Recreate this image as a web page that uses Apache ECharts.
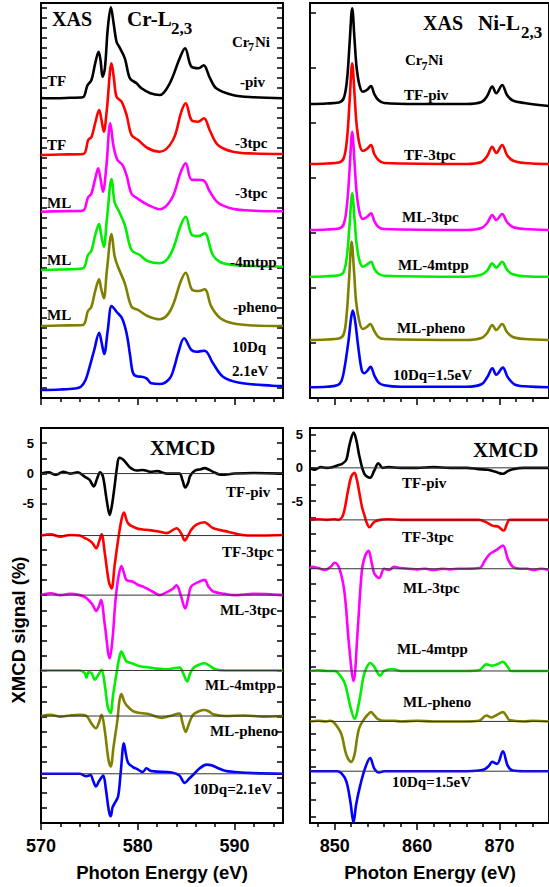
<!DOCTYPE html>
<html><head><meta charset="utf-8">
<script src="https://cdn.jsdelivr.net/npm/echarts@6/dist/echarts.min.js"></script>
<style>html,body{margin:0;padding:0;background:#fff}#c{width:549px;height:887px}</style>
</head><body><div id="c"></div>
<script>
// ---------- tick labels ----------
const crMajorTicks = [570, 580, 590];
const crMinorTicks = [572, 574, 576, 578, 582, 584, 586, 588, 592, 594];
const niMajorTicks = [850, 860, 870];
const niMinorTicks = [848, 852, 854, 856, 858, 862, 864, 866, 868, 872, 874];
const xmcdLabelTicks = [5, 0, -5];

// ---------- series names / colors ----------
const crNames = ['TF-piv', 'TF-3tpc', 'ML-3tpc', 'ML-4mtpp', 'ML-pheno', '10Dq=2.1eV'];
const niNames = ['TF-piv', 'TF-3tpc', 'ML-3tpc', 'ML-4mtpp', 'ML-pheno', '10Dq=1.5eV'];
const colors = ['#000000', '#ff0000', '#ff00ff', '#00ee00', '#808000', '#0000ff'];

// ---------- XAS Cr (arb. units, relative to each curve's baseline) ----------
const crXasOffsets = [299.7, 243, 186.3, 128, 72, 8];
const crXasTFpiv = [[570,0.3],[571.5,0],[573,0.5],[574.3,1],[574.8,13],[575.2,18],[575.6,35],[575.95,46.6],[576.15,38],[576.36,21.6],[576.6,30],[576.9,70],[577.22,91],[577.5,75],[577.8,56.6],[578.07,51.6],[578.66,40],[579.18,20],[579.87,15],[580.38,10],[581.3,5],[582.27,3.3],[583.3,15],[584.33,40],[584.88,50],[585.54,31.6],[586.29,30],[586.8,33],[587.42,21],[588.1,10],[589.8,3.3],[592,1],[595,0]];
const crXasTF3tpc = [[570,0],[572,0.5],[574.36,1],[574.88,15],[575.23,18.3],[575.6,32],[576.01,45],[576.25,35],[576.49,23.3],[576.8,45],[577.29,91.7],[577.55,75],[577.8,58.3],[578.32,53.3],[578.84,40],[579.35,20],[580.03,15],[581,7],[582.27,3.3],[583.64,15],[584.5,43.3],[584.95,51.7],[585.54,35],[586.22,33.3],[586.84,36.7],[587.42,25],[588.28,10],[589.82,3.3],[592,1.5],[595,1]];
const crXasML3tpc = [[570,0],[572,0.5],[574.3,1],[574.85,14],[575.2,18],[575.6,33],[575.91,43.4],[576.15,33],[576.4,20],[576.75,45],[577.16,88.4],[577.5,65],[577.9,51.7],[578.4,47],[578.85,36],[579.35,18],[580,13],[581,7],[582.27,2.5],[583.5,13],[584.45,40],[584.95,48.4],[585.55,32],[586.39,31.7],[586.85,31],[587.45,20],[588.3,9],[589.8,3],[592,1],[595,0.5]];
const crXasML4mtpp = [[570,0],[572,0.5],[574.3,1.5],[574.85,15],[575.2,19],[575.6,35],[576.0,46],[576.2,36],[576.49,23.3],[576.8,50],[577.3,91],[577.6,68],[578.07,58.3],[578.66,45],[579.35,20],[580.2,15],[581,9],[582.27,6.7],[583.4,16],[584.45,45],[584.95,53.3],[585.6,35],[586.3,34],[586.9,36.7],[587.75,15],[588.5,8],[589.8,5],[592,4],[595,3.3]];
const crXasMLpheno = [[570,0],[572,0.5],[574.3,1],[574.85,15],[575.2,19],[575.6,35],[576.0,46.7],[576.2,38],[576.49,27.7],[576.8,55],[577.29,92],[577.6,70],[577.95,59.3],[578.66,42.7],[579.35,19.3],[580.03,16],[581,10],[582.27,6.7],[583.4,16],[584.45,45],[584.95,53.3],[585.64,36],[586.3,35],[586.9,36.7],[587.6,19.3],[588.5,8],[589.8,2.7],[592,0.5],[595,0]];
const crXasCalc = [[570,0],[572,0.5],[573.5,1.5],[574.12,3.3],[574.6,10],[574.98,21.7],[575.5,40],[576.01,57.3],[576.25,48],[576.53,36],[576.9,60],[577.29,84],[577.6,81],[577.8,78.3],[578.37,71.7],[578.84,56.7],[579.2,35],[579.52,16.7],[580.0,13.5],[580.38,13.3],[580.9,11.7],[581.4,6.7],[582.27,6],[583.3,11.7],[583.8,24],[584.16,36.7],[584.78,51.7],[585.54,40],[586.06,38.3],[586.9,39.3],[587.77,26.7],[588.8,13.3],[590.5,7.3],[593.9,4.3],[595,4]];

// ---------- XAS Ni ----------
const niXasOffsets = [294, 234, 168, 121.3, 58, 10.7];
const niXasTFpiv = [[847,0],[849,0.5],[850.5,1.5],[851.1,6],[851.5,25],[851.8,60],[852.12,95.7],[852.4,65],[852.65,37],[853.0,19],[853.4,12.3],[853.9,14],[854.4,18],[854.8,10],[855.3,4],[856,1],[860,0],[866,0],[867.8,2],[868.5,8],[869.12,17.5],[869.6,10.7],[870.32,19],[870.9,9],[871.6,3.5],[873,1],[876,-2]];
const niXasTF3tpc = [[847,0],[849,0.5],[850.5,1.5],[851.1,6],[851.5,26],[851.8,62],[852.12,100.7],[852.4,70],[852.65,40],[853.0,20],[853.4,13],[853.9,15],[854.4,19],[854.8,10],[855.3,4],[856,1],[866,0],[867.8,2],[868.5,8],[869.12,17.3],[869.6,11],[870.32,19],[870.9,9],[871.6,3.5],[873,1],[876,0]];
const niXasML3tpc = [[847,0],[849,0.5],[850.5,1.5],[851.1,6],[851.5,26],[851.8,60],[852.12,98.3],[852.4,68],[852.65,38],[853.0,18],[853.4,11],[853.9,13],[854.4,16.7],[854.8,9],[855.3,3],[856,1],[866,0],[867.8,2],[868.5,7],[869.12,15],[869.6,10],[870.32,16],[870.9,8],[871.6,3],[873,1],[876,0]];
const niXasML4mtpp = [[847,0],[849,0.5],[850.5,1.5],[851.1,5],[851.5,22],[851.8,52],[852.12,83.4],[852.4,58],[852.65,33],[853.0,16],[853.4,10],[853.9,12],[854.4,15],[854.8,8],[855.3,3],[856,1],[866,0],[867.8,2],[868.5,6],[869.12,13.3],[869.6,9],[870.32,15],[870.9,7],[871.6,2.5],[873,0.5],[876,0]];
const niXasMLpheno = [[847,0],[849,0.5],[850.5,1.5],[851.1,6],[851.45,26],[851.75,62],[852.05,98.3],[852.35,68],[852.6,38],[853.0,18],[853.4,11],[853.9,13],[854.3,16],[854.8,9],[855.3,3],[856,1],[866,0],[867.8,2],[868.5,7],[869.12,15],[869.6,10],[870.32,16],[870.9,8],[871.6,3],[873,1],[876,0]];
const niXasCalc = [[847,0],[849,0.5],[850.3,2],[850.8,6],[851.2,20],[851.68,47],[852.0,70],[852.2,76.7],[852.5,65],[852.8,44],[853.28,17],[853.6,14],[854.0,17],[854.35,20.6],[854.8,12],[855.3,5],[856,2],[858,0.5],[866,0.5],[867.8,3],[868.5,10],[869.14,19],[869.6,12.5],[870.4,19.7],[871.0,10],[871.8,3],[873,1],[876,0]];

// ---------- XMCD Cr (%) relative to baseline ----------
const crXmcdOffsets = [0, -10.2, -20, -32.4, -39.9, -49.4];
const crXmcdTFpiv = [[570,0],[570.8,0.2],[571.5,-0.2],[572.3,0.3],[573,0],[573.8,0.2],[574.5,-0.5],[575.0,-1.0],[575.46,-2.1],[575.8,-0.8],[576.1,0.2],[576.4,-0.5],[576.8,-4.5],[577.1,-6.8],[577.35,-5],[577.6,-2.1],[577.85,1],[578.07,2.6],[578.4,2.4],[578.66,2.0],[579.2,1],[579.9,0.5],[580.5,0.6],[581.3,0.3],[582,0.4],[583,0],[584.3,0],[584.6,-1],[584.9,-2.3],[585.2,-1.5],[585.4,-0.4],[585.9,0.5],[586.5,0.7],[586.9,0.9],[587.4,0.6],[587.9,0.2],[588.6,-0.2],[590,0],[592,0.1],[595,0]];
const crXmcdTF3tpc = [[570,0],[571,0.2],[572,-0.2],[573,0.1],[574,0],[574.5,-0.4],[574.9,-0.7],[575.3,-1.2],[575.7,-2.1],[576.0,-1],[576.26,0.2],[576.6,-3],[577.0,-7.5],[577.29,-8.7],[577.6,-5],[577.97,-0.7],[578.3,2.5],[578.56,3.8],[579.0,2],[579.86,1.2],[580.5,1],[581.2,0.9],[582,0.7],[583,0.4],[584,1.2],[584.5,0.3],[584.85,-0.8],[585.2,0],[585.5,0.9],[586.05,1.8],[586.9,2.2],[587.3,1.8],[587.8,1.2],[589.4,0.6],[590.8,0.1],[592,0],[595,0.1]];
const crXmcdML3tpc = [[570,0],[571,0.3],[572,0],[573,0.2],[574,0],[574.5,-0.3],[574.9,-0.8],[575.3,-1.5],[575.7,-2.6],[576.0,-1.8],[576.2,-0.8],[576.6,-5],[577.1,-10.4],[577.4,-7],[577.7,-0.8],[578.0,3],[578.3,4.8],[578.6,3.5],[578.83,2.5],[579.5,2.2],[580.0,1.7],[580.55,1.4],[581.5,0.6],[582.27,0],[583,0.5],[583.6,1],[584,1.6],[584.4,0.2],[584.9,-2.2],[585.2,-0.5],[585.5,1.4],[586.2,2.1],[586.9,2.5],[587.3,1.4],[587.8,0.6],[589,0.2],[590,0],[592,0.2],[595,0]];
const crXmcdML4mtpp = [[570,0],[572,0],[574,0],[574.5,-0.4],[574.7,-1.2],[574.9,-0.3],[575.2,-0.4],[575.57,-1.5],[575.9,-0.8],[576.26,0.1],[576.6,-2.5],[576.9,-6],[577.18,-7],[577.45,-4],[577.8,-0.5],[578.1,2.2],[578.3,3.1],[578.6,2.2],[578.83,1.5],[579.5,1.1],[580.2,0.7],[581.2,0.5],[582,0.3],[583,0.2],[584.3,0.5],[584.7,-0.5],[585.1,-1.8],[585.4,-0.5],[585.8,0.5],[586.4,1],[586.9,1.2],[587.4,0.8],[588,0.2],[589,0],[595,0]];
const crXmcdMLpheno = [[570,0],[571,0.2],[572,-0.1],[573,0.1],[574,0.2],[574.7,0],[575.2,-1.2],[575.67,-2],[576.0,-1],[576.26,0.2],[576.6,-2.5],[576.95,-7],[577.2,-8.3],[577.5,-5],[577.9,-0.6],[578.1,2.5],[578.3,3.6],[578.6,2.4],[578.83,1.8],[579.5,0.8],[580.3,0.5],[581.2,0.3],[582.5,-0.3],[583.3,0],[584.3,0.4],[584.6,-1],[584.95,-2.6],[585.3,-1.2],[585.7,0.2],[586.3,0.8],[586.9,1],[587.4,0.7],[587.8,0.3],[589,0],[591,0.1],[593,-0.1],[595,0]];
const crXmcdCalc = [[570,0],[572,0],[574,0],[574.7,-0.4],[575.1,-0.2],[575.4,-1.2],[575.67,-2.1],[576.0,-1.2],[576.42,-0.3],[576.7,-2.5],[577.0,-6],[577.2,-7],[577.4,-5.5],[577.63,-4.8],[577.97,-3.7],[578.25,0.5],[578.56,5],[578.8,3],[579.0,1.8],[579.5,1.1],[579.9,0.8],[580.5,0.3],[580.9,0.9],[581.3,0.5],[581.7,0.4],[583.5,0.2],[584.3,-0.3],[584.85,-1.5],[585.3,-0.8],[585.7,-0.2],[586.4,0.9],[587.1,1.5],[587.6,1.4],[588.2,1],[589,0.5],[590,0.3],[592,0.1],[595,0]];

// ---------- XMCD Ni (%) relative to baseline ----------
const niXmcdOffsets = [0, -7.84, -15.2, -30.6, -38.2, -45.7];
const niXmcdTFpiv = [[847,0],[847.5,-0.3],[848.3,0.1],[849,0],[849.7,0.1],[850.4,0.4],[850.9,0.6],[851.4,1.2],[851.8,3.5],[852.3,5.3],[852.65,4],[853.0,1.7],[853.6,-0.9],[854.3,-1.5],[854.8,-0.4],[855.3,0.7],[855.8,0],[856.5,0.1],[858,0],[860,0],[862,0.1],[864,0],[866,0],[867.5,-0.2],[868.6,-0.3],[869.5,-0.6],[870.4,-0.9],[871.0,-0.5],[871.6,-0.2],[873,0],[876,0]];
const niXmcdTF3tpc = [[847,0],[848,0.1],[849,0],[850,0.1],[850.4,0],[851.0,0.7],[851.6,4.3],[852.0,6.5],[852.4,7.1],[852.7,6],[853.0,4],[853.3,2],[853.6,0.7],[853.9,-0.5],[854.2,-1.1],[854.8,-0.3],[855.5,0],[856.4,0.1],[858,0],[860,0],[862,0],[864,0],[866,0],[867.5,0],[868.3,-0.3],[869.2,-0.9],[869.8,-1.0],[870.5,-1.6],[870.9,-0.6],[871.2,0],[873,0],[876,0]];
const niXmcdML3tpc = [[847,0],[847.2,0.3],[848,0.1],[848.8,-0.2],[849.5,0.3],[850,0.9],[850.6,-0.1],[851.2,-3.7],[851.7,-11],[852.28,-16.9],[852.8,-9],[853.3,-0.2],[853.7,2],[854.1,2.7],[854.5,0.8],[854.8,-0.7],[855.4,-1.4],[856,0],[856.6,-0.2],[857.2,0.3],[858,0.1],[859,0],[860,-0.1],[861,0],[862,-0.2],[863,0],[864,-0.1],[865,0],[866,0],[867.6,0.1],[868.2,1.2],[868.8,2.2],[869.6,2.8],[870.4,3.5],[871.0,1.5],[871.6,0.3],[872.5,0],[873.4,0],[874,-0.2],[875,0],[876,-0.2]];
const niXmcdML4mtpp = [[847,0],[848,0.1],[849,0],[850,0],[850.4,-0.3],[851.2,-1.8],[851.9,-5.4],[852.4,-7.2],[853,-4.4],[853.5,-0.8],[853.9,0.6],[854.3,1.2],[854.7,0.8],[855,0.2],[855.5,-0.7],[856,0],[857,0.3],[858,0],[860,0],[862,0],[864,0],[866,0],[867.5,0.1],[868.4,1],[869.1,0.8],[869.7,1],[870.4,1.4],[871,0.6],[871.4,0],[873,0],[876,0]];
const niXmcdMLpheno = [[847,0],[848,0.1],[849,0],[849.5,0.1],[850,-0.3],[850.8,-1.9],[851.4,-5],[852,-6.1],[852.4,-5],[852.7,-2.6],[853,-0.9],[853.6,0.4],[854,1],[854.4,1.4],[854.8,0.9],[855.2,0.4],[856,0.1],[857.2,0.1],[858,0],[860,0.1],[862,0],[864,0],[866,0],[867.5,0.1],[868.4,0.9],[869,0.6],[869.7,1],[870.4,1.4],[870.9,0.7],[871.2,0.2],[873,0],[874,0.1],[876,0]];
const niXmcdCalc = [[847,0],[849,0],[850.3,0],[850.8,-0.3],[851.4,-1.5],[851.9,-4.6],[852.28,-7.7],[852.6,-5],[853.1,-2.1],[853.7,0.5],[854.3,2],[854.8,0.4],[855.4,-0.2],[856,0],[860,0],[866,0],[867.5,0.1],[868.2,0.3],[868.7,0.8],[869.1,1.4],[869.7,1.1],[870.4,3],[871,0.8],[871.6,0.1],[873,0],[876,0]];

// ---------- build ----------
const crXas = [crXasTFpiv, crXasTF3tpc, crXasML3tpc, crXasML4mtpp, crXasMLpheno, crXasCalc];
const niXas = [niXasTFpiv, niXasTF3tpc, niXasML3tpc, niXasML4mtpp, niXasMLpheno, niXasCalc];
const crXmcd = [crXmcdTFpiv, crXmcdTF3tpc, crXmcdML3tpc, crXmcdML4mtpp, crXmcdMLpheno, crXmcdCalc];
const niXmcd = [niXmcdTFpiv, niXmcdTF3tpc, niXmcdML3tpc, niXmcdML4mtpp, niXmcdMLpheno, niXmcdCalc];

const chart = echarts.init(document.getElementById('c'), null, {renderer: 'svg'});
const SANS = '"Liberation Sans", Arial, sans-serif';
const SERIF = '"Liberation Serif", "Times New Roman", serif';

const grids = [
  {left: 41, top: 3, width: 242, height: 395},
  {left: 310, top: 3, width: 242, height: 395},
  {left: 41, top: 428, width: 242, height: 395},
  {left: 310, top: 428, width: 242, height: 395}
].map(g => Object.assign(g, {show: true, borderColor: '#000', borderWidth: 2, backgroundColor: 'transparent', containLabel: false}));

function xMajor(gi, min, max, ticks, showLabels) {
  return {type: 'value', gridIndex: gi, min, max, position: 'bottom',
    axisLine: {show: true, onZero: false, lineStyle: {color: '#000', width: 2}},
    axisTick: {show: true, inside: false, length: 7, customValues: ticks, lineStyle: {color: '#000', width: 1.5}},
    axisLabel: {show: showLabels, customValues: ticks, margin: 14, color: '#000', fontFamily: SANS, fontWeight: 'bold', fontSize: 18},
    splitLine: {show: false}};
}
function xMinor(gi, min, max, ticks) {
  return {type: 'value', gridIndex: gi, min, max, position: 'bottom',
    axisLine: {show: false, onZero: false},
    axisTick: {show: true, inside: false, length: 4, customValues: ticks, lineStyle: {color: '#000', width: 1.5}},
    axisLabel: {show: false}, splitLine: {show: false}};
}
function yAx(gi, min, max, pos, ticks, labels) {
  return {type: 'value', gridIndex: gi, min, max, position: pos,
    axisLine: {show: true, onZero: false, lineStyle: {color: '#000', width: 2}},
    axisTick: {show: true, inside: true, length: 6, customValues: ticks, lineStyle: {color: '#000', width: 1.5}},
    axisLabel: labels ? {show: true, customValues: labels, margin: 7, color: '#000', fontFamily: SANS, fontWeight: 'bold', fontSize: 13,
      formatter: v => String(v)} : {show: false},
    splitLine: {show: false}};
}
function range(a, b, step) { const r = []; for (let v = a; v <= b + 1e-9; v += step) r.push(+v.toFixed(3)); return r; }

const topLeftTicks = range(10, 390, 10);
const topRightTicks = range(55, 385, 55);
const crXmcdTicks = range(-57.5, 7.5, 2.5);
const niXmcdTicks = range(-52.5, 5, 2.5);

const xAxis = [
  xMajor(0, 570, 595, crMajorTicks, false), xMinor(0, 570, 595, crMinorTicks),
  xMajor(1, 847, 876, niMajorTicks, false), xMinor(1, 847, 876, niMinorTicks),
  xMajor(2, 570, 595, crMajorTicks, true), xMinor(2, 570, 595, crMinorTicks),
  xMajor(3, 847, 876, niMajorTicks, true), xMinor(3, 847, 876, niMinorTicks)
];
const yAxis = [
  yAx(0, 0, 395, 'left', topLeftTicks, null), yAx(0, 0, 395, 'right', topLeftTicks, null),
  yAx(1, 0, 395, 'left', topRightTicks, null),
  yAx(2, -57.5, 7.5, 'left', crXmcdTicks, xmcdLabelTicks), yAx(2, -57.5, 7.5, 'right', crXmcdTicks, null),
  yAx(3, -53.5, 6, 'left', niXmcdTicks, xmcdLabelTicks)
];

const series = [];
function addCurves(curves, offsets, names, xi, yi) {
  curves.forEach((c, i) => {
    series.push({type: 'line', name: names[i], xAxisIndex: xi, yAxisIndex: yi, showSymbol: false, smooth: 0.35,
      data: c.map(p => [p[0], p[1] + offsets[i]]), lineStyle: {color: colors[i], width: 2.6}, itemStyle: {color: colors[i]}, z: 3, silent: true});
  });
}
function addBaselines(offsets, xi, yi, xmin, xmax) {
  offsets.forEach(o => series.push({type: 'line', xAxisIndex: xi, yAxisIndex: yi, showSymbol: false, silent: true,
    data: [[xmin, o], [xmax, o]], lineStyle: {color: '#333', width: 1}, z: 4}));
}
addCurves(crXas, crXasOffsets, crNames, 0, 0);
addCurves(niXas, niXasOffsets, niNames, 2, 2);
addCurves(crXmcd, crXmcdOffsets, crNames, 4, 3);
addBaselines(crXmcdOffsets, 4, 3, 570, 595);
addCurves(niXmcd, niXmcdOffsets, niNames, 6, 5);
addBaselines(niXmcdOffsets, 6, 5, 847, 876);

function T(text, x, y, size, fam, extra) {
  return Object.assign({type: 'text', x, y, silent: true, z: 10,
    style: {text, fill: '#000', font: 'bold ' + size + 'px ' + fam, align: 'left', verticalAlign: 'middle'}}, extra || {});
}
const graphic = [
  // top-left
  T('XAS', 52, 19, 20, SERIF), T('Cr-L', 127, 19, 21, SERIF), T('2,3', 171, 28, 17, SERIF),
  T('Cr', 232, 42, 15, SERIF), T('7', 248, 47, 12, SERIF), T('Ni', 255, 42, 15, SERIF),
  T('TF', 47, 81, 15, SERIF), T('-piv', 240, 82, 15, SERIF),
  T('TF', 47, 145, 15, SERIF), T('-3tpc', 235, 143, 15, SERIF),
  T('ML', 47, 203, 15, SERIF), T('-3tpc', 235, 193, 15, SERIF),
  T('ML', 47, 260, 15, SERIF), T('-4mtpp', 230, 262, 15, SERIF),
  T('ML', 47, 315, 15, SERIF), T('-pheno', 233, 307, 15, SERIF),
  T('10Dq', 232, 347, 15, SERIF), T('2.1eV', 232, 371, 15, SERIF),
  // top-right
  T('XAS', 423, 23, 20, SERIF), T('Ni-L', 478, 23, 21, SERIF), T('2,3', 521, 32, 17, SERIF),
  T('Cr', 405, 60, 15, SERIF), T('7', 421.5, 66, 12, SERIF), T('Ni', 428, 60, 15, SERIF),
  T('TF-piv', 404, 95, 15, SERIF), T('TF-3tpc', 404, 155, 15, SERIF), T('ML-3tpc', 402, 217, 15, SERIF),
  T('ML-4mtpp', 398, 265, 15, SERIF), T('ML-pheno', 397, 328, 15, SERIF), T('10Dq=1.5eV', 393, 375, 15, SERIF),
  // bottom-left
  T('XMCD', 150, 448, 21, SERIF),
  T('TF-piv', 226, 492, 15, SERIF), T('TF-3tpc', 222, 552, 15, SERIF), T('ML-3tpc', 220, 610, 15, SERIF),
  T('ML-4mtpp', 205, 685, 15, SERIF), T('ML-pheno', 210, 731, 15, SERIF), T('10Dq=2.1eV', 193, 789, 15, SERIF),
  // bottom-right
  T('XMCD', 473, 450, 21, SERIF),
  T('TF-piv', 402, 483, 15, SERIF), T('TF-3tpc', 402, 537, 15, SERIF), T('ML-3tpc', 403, 588, 15, SERIF),
  T('ML-4mtpp', 397, 649, 15, SERIF), T('ML-pheno', 403, 702, 15, SERIF), T('10Dq=1.5eV', 392, 782, 15, SERIF),
  // axis titles
  T('Photon Energy (eV)', 162, 872, 18.5, SANS, {style: {text: 'Photon Energy (eV)', fill: '#000', font: 'bold 18.5px ' + SANS, align: 'center', verticalAlign: 'middle'}}),
  T('Photon Energy (eV)', 430, 872, 18.5, SANS, {style: {text: 'Photon Energy (eV)', fill: '#000', font: 'bold 18.5px ' + SANS, align: 'center', verticalAlign: 'middle'}}),
  T('XMCD signal (%)', 18, 630, 18.5, SANS, {rotation: Math.PI / 2, style: {text: 'XMCD signal (%)', fill: '#000', font: 'bold 18.5px ' + SANS, align: 'center', verticalAlign: 'middle'}})
];

chart.setOption({animation: false, backgroundColor: '#fff', grid: grids, xAxis, yAxis, series, graphic});
</script></body></html>
